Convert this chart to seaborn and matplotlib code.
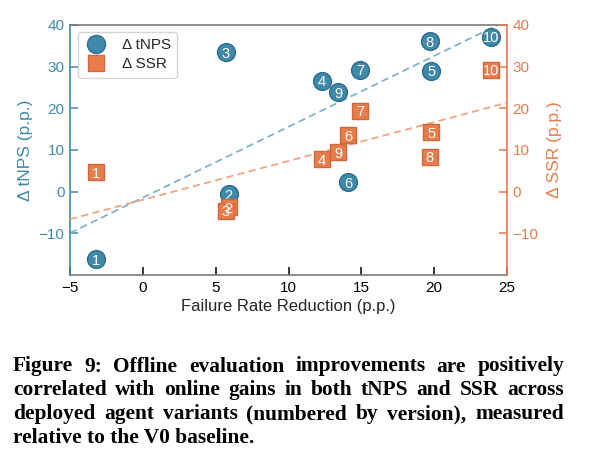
import numpy as np
import pandas as pd
import matplotlib
matplotlib.use("Agg")
from matplotlib import pyplot as plt
from matplotlib.lines import Line2D
import seaborn as sns

# values
versions = [1, 2, 3, 4, 5, 6, 7, 8, 9, 10]
failure_rate_reduction = [-3.2, 5.9, 5.7, 12.3, 19.8, 14.1, 14.9, 19.7, 13.4, 23.9]
delta_tnps = [-16.2, -0.6, 33.4, 26.6, 29.0, 2.3, 29.2, 36.1, 23.8, 37.2]
delta_ssr = [4.7, -3.8, -4.6, 7.8, 14.3, 13.5, 19.4, 8.4, 9.5, 29.2]

x_ticks = [-5, 0, 5, 10, 15, 20, 25]
y_ticks = [-10, 0, 10, 20, 30, 40]

caption_lines = [
    "Figure 9: Offline evaluation improvements are positively",
    "correlated with online gains in both tNPS and SSR across",
    "deployed agent variants (numbered by version), measured",
    "relative to the V0 baseline.",
]

df = pd.DataFrame({
    "version": versions,
    "frr": failure_rate_reduction,
    "tnps": delta_tnps,
    "ssr": delta_ssr,
})

blue = "#3f8aab"
blue_edge = "#2d6d8c"
blue_line = "#7fb2cd"
orange = "#e87c4a"
orange_edge = "#d0683a"
orange_line = "#f2a480"
spine_gray = "#7a7a7a"

sns.set_style("ticks")
plt.rcParams["font.family"] = ["Liberation Sans", "DejaVu Sans"]

W, H = 594, 455
fig = plt.figure(figsize=(W / 100, H / 100), dpi=100)
ax1 = fig.add_axes([70 / W, 1 - 275 / H, 437 / W, 250 / H])
ax2 = ax1.twinx()

for ax in (ax1, ax2):
    ax.set_xlim(-5, 25)
    ax.set_ylim(-20, 40)

dash = (0, (4, 2.4))
sns.regplot(data=df, x="frr", y="tnps", ax=ax1, scatter=False, ci=None,
            truncate=False, line_kws=dict(color=blue_line, lw=1.3, ls=dash))
sns.scatterplot(data=df, x="frr", y="tnps", ax=ax1, marker="o", s=165,
                color=blue, edgecolor=blue_edge, linewidth=1, zorder=3,
                legend=False)
for v, x, y in zip(versions, failure_rate_reduction, delta_tnps):
    ax1.text(x, y, str(v), ha="center", va="center_baseline", color="white",
             fontsize=10.5, zorder=4)

sns.regplot(data=df, x="frr", y="ssr", ax=ax2, scatter=False, ci=None,
            truncate=False, line_kws=dict(color=orange_line, lw=1.3, ls=dash))
sns.scatterplot(data=df, x="frr", y="ssr", ax=ax2, marker="s", s=135,
                color=orange, edgecolor=orange_edge, linewidth=1, zorder=3,
                legend=False)
for v, x, y in zip(versions, failure_rate_reduction, delta_ssr):
    ax2.text(x, y, str(v), ha="center", va="center_baseline", color="white",
             fontsize=10.5, zorder=4)

for ax in (ax1, ax2):
    ax.set_xlim(-5, 25)
    ax.set_ylim(-20, 40)
    ax.set_yticks(y_ticks)
ax1.set_xticks(x_ticks)

# spines
ax1.spines["right"].set_visible(False)
ax2.spines["left"].set_visible(False)
ax2.spines["top"].set_visible(False)
ax2.spines["bottom"].set_visible(False)
ax1.spines["top"].set_color(spine_gray)
ax1.spines["bottom"].set_color(spine_gray)
ax1.spines["left"].set_color(blue)
ax2.spines["right"].set_color(orange)
for sp in ("top", "bottom", "left"):
    ax1.spines[sp].set_linewidth(1.2)
ax2.spines["right"].set_linewidth(1.2)

ax1.tick_params(axis="x", direction="in", length=5.5, width=1.1,
                labelsize=11, colors="black", pad=4)
ax1.tick_params(axis="y", direction="in", length=5.5, width=1.1,
                labelsize=11, colors=blue, pad=4)
ax2.tick_params(axis="y", direction="in", length=5.5, width=1.1,
                labelsize=11, colors=orange, pad=4)

ax1.set_xlabel("Failure Rate Reduction (p.p.)", fontsize=12, labelpad=3)
ax1.set_ylabel("Δ tNPS (p.p.)", fontsize=12.5, color=blue, labelpad=4)
ax2.set_ylabel("Δ SSR (p.p.)", fontsize=12.5, color=orange, labelpad=6)

handles = [
    Line2D([], [], ls="none", marker="o", markersize=13, markerfacecolor=blue,
           markeredgecolor=blue_edge, label="Δ tNPS"),
    Line2D([], [], ls="none", marker="s", markersize=12, markerfacecolor=orange,
           markeredgecolor=orange_edge, label="Δ SSR"),
]
leg = ax2.legend(handles=handles, loc="upper left", bbox_to_anchor=(0.018, 0.972),
                 borderaxespad=0, fontsize=11, frameon=True, fancybox=True,
                 handlelength=1.6, handletextpad=0.9, labelspacing=0.35,
                 borderpad=0.4)
leg.get_frame().set_edgecolor("#cccccc")
leg.get_frame().set_linewidth(1)

# caption, justified like the paper
renderer = fig.canvas.get_renderer()
cap_left, cap_right = 13, 564
baselines = [371.5, 395.2, 419.0, 442.7]
cap_font = dict(family=["Liberation Serif", "DejaVu Serif"], fontweight="bold",
                fontsize=15.4, color="black", va="baseline", ha="left")
for i, line in enumerate(caption_lines):
    yf = 1 - baselines[i] / H
    if i == len(caption_lines) - 1:
        fig.text(cap_left / W, yf, line, **cap_font)
        continue
    words = line.split()
    texts = [fig.text(0, yf, w, **cap_font) for w in words]
    widths = [t.get_window_extent(renderer).width for t in texts]
    gap = (cap_right - cap_left - sum(widths)) / (len(words) - 1)
    pos = cap_left
    for t, w in zip(texts, widths):
        t.set_x(pos / W)
        pos += w + gap

fig.savefig("out.png", dpi=100)
